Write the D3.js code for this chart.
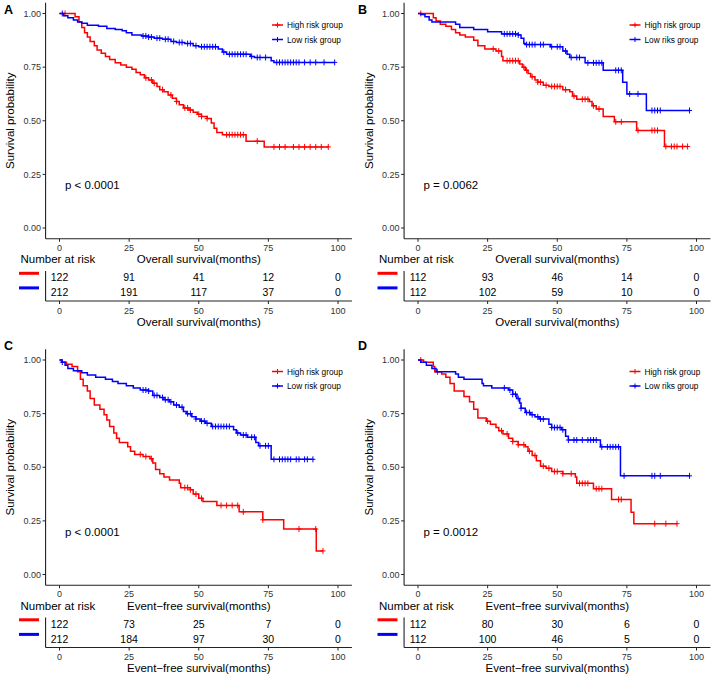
<!DOCTYPE html>
<html><head><meta charset="utf-8">
<script src="https://cdn.jsdelivr.net/npm/d3@7"></script>
<style>body{margin:0;background:#fff}svg{display:block}</style>
</head><body>
<svg id="chart" width="713" height="679"></svg>
<script>
// ---------- data ----------
const timeTicks = [0, 25, 50, 75, 100];
const survTicks = [0, 0.25, 0.5, 0.75, 1];
const survTickLabels = ["0.00", "0.25", "0.50", "0.75", "1.00"];
const groupNames = ["High risk group", "Low risk group"];
const groupNamesTypo = ["High risk group", "Low riks group"];
const panelLetters = ["A", "B", "C", "D"];
const xTitles = ["Overall survival(months)", "Overall survival(months)", "Event\u2212free survival(months)", "Event\u2212free survival(months)"];
const pValues = ["p < 0.0001", "p = 0.0062", "p < 0.0001", "p = 0.0012"];

// Panel A
const A_highT = [5.6,7,8,9,10,11,12.5,13.5,15,16.5,18,20,22,24,26,27.5,29,30.5,32,33.5,35,36,37.5,39,40.5,42,43,44.5,46.5,48,49.5,51,53,54.5,55.5,56.5,58.5,67,73.5];
const A_highS = [0.985,0.96,0.935,0.91,0.89,0.87,0.85,0.83,0.815,0.8,0.785,0.77,0.76,0.75,0.74,0.725,0.715,0.7,0.69,0.675,0.66,0.645,0.635,0.62,0.605,0.59,0.575,0.56,0.55,0.54,0.53,0.52,0.51,0.49,0.465,0.445,0.435,0.405,0.378];
const A_highC = [2,31,33,34,37,40,42,45,46,47,50,51,53,60,61,62,63,64,65,66,71,77,79,81,84,86,88,90,92,94,96.5];
const A_lowT = [1.5,3,5,6.5,8,10,14,17,20,22.5,24,26,29.5,32,34,37,40,42,45,48,50,57,58.5,60,68.5,70,76,77];
const A_lowS = [0.99,0.98,0.97,0.96,0.955,0.945,0.94,0.93,0.925,0.92,0.91,0.9,0.895,0.89,0.885,0.88,0.87,0.865,0.86,0.85,0.845,0.835,0.82,0.81,0.8,0.795,0.78,0.772];
const A_lowC = [1,30,31,32,33,35,36,38,39,41,43,44,46,47,49,51,52,53,54,55,56,59,61,62,63,64,65,66,67,69,71,72,74,78,79,80,81,82,83,84,85,86,88,90,92,95,98.8];
const A_highRisk = [122, 91, 41, 12, 0];
const A_lowRisk = [212, 191, 117, 37, 0];

// Panel B
const B_highT = [5.5,6.5,8,10,12,13.5,15,17,20,21.5,24,28,30,30.5,36.5,37.5,38.5,39.5,40.5,42,43,45,47,52,54.5,55.5,57,61.5,62.5,64,66.5,70.5,78.5,88.5];
const B_highS = [0.98,0.965,0.95,0.94,0.925,0.91,0.9,0.89,0.875,0.85,0.835,0.825,0.8,0.78,0.765,0.75,0.735,0.72,0.705,0.69,0.68,0.665,0.66,0.645,0.635,0.615,0.6,0.59,0.57,0.555,0.52,0.495,0.455,0.38];
const B_highC = [1,27,29,32,33,34,35,36,38,39,41,43,44,46,48,49,50,51,53,56,59,60,61,63,65,71,73,79,84,85,86,89,91,92,93,95,96.8];
const B_lowT = [1,2.5,4,5,13.5,15,20,25,30,36,37,38,38.5,47.5,52,53.5,54.5,60,66.5,73.5,75,82];
const B_lowS = [0.995,0.985,0.97,0.96,0.95,0.935,0.925,0.915,0.905,0.9,0.885,0.86,0.855,0.845,0.825,0.81,0.795,0.77,0.735,0.68,0.625,0.548];
const B_lowC = [31,32,33,34,35,36,39,40,41,42,44,45,48,50,51,53,55,57,58,61,63,64,65,66,71,72,73,76,79,84,85,86,87,97.5];
const B_highRisk = [112, 93, 46, 14, 0];
const B_lowRisk = [112, 102, 59, 10, 0];

// Panel C
const C_highT = [0.8,2.5,4.5,6.5,7.5,8.5,10,11,12.5,14.5,16,17,18,19.5,20.5,21.5,24.5,25.5,27,30,32.5,33.5,34.5,36,37.5,39.5,43,43.5,47,48,50,51.5,56.5,64.5,73,80.5,92.2];
const C_highS = [0.99,0.98,0.97,0.945,0.91,0.88,0.855,0.82,0.79,0.77,0.745,0.72,0.69,0.66,0.635,0.615,0.595,0.575,0.56,0.55,0.54,0.52,0.49,0.47,0.455,0.44,0.425,0.405,0.395,0.375,0.355,0.34,0.322,0.292,0.255,0.212,0.11];
const C_highC = [29,31,33,45,46,47,49,51,58,60,62,64,66,73,86,92,94.6];
const C_lowT = [0.8,2,3,5,8,10,13,16.5,19,21,24,26.5,29,32,33.5,36,37.5,39.5,41,43,44.5,45.5,47.5,49,50.5,52.5,54.5,62.5,63.5,65,67.5,70.5,71.5,76];
const C_lowS = [0.99,0.975,0.96,0.95,0.94,0.93,0.92,0.91,0.9,0.89,0.88,0.87,0.86,0.855,0.835,0.825,0.815,0.805,0.79,0.78,0.76,0.75,0.735,0.725,0.715,0.705,0.69,0.675,0.66,0.65,0.64,0.615,0.6,0.537];
const C_lowC = [1,30,31,32,34,35,37,38,39,40,42,44,46,47,49,51,52,53,55,56,57,58,59,60,61,64,66,67,69,70,72,74,75,77,79,80,81,82,83,85,86,88,89,91];
const C_highRisk = [122, 73, 25, 7, 0];
const C_lowRisk = [212, 184, 97, 30, 0];

// Panel D
const D_highT = [2,5.5,6,8.5,10,11.5,13,16.5,18.5,20,21.5,24.5,26,28,29,30.5,32.5,34,36,38.5,39.5,41,42.5,44,46,48,52,56.5,57,63,69.5,76.5,77.5];
const D_highS = [0.99,0.97,0.945,0.935,0.92,0.89,0.855,0.83,0.805,0.77,0.73,0.715,0.7,0.685,0.67,0.655,0.635,0.62,0.605,0.595,0.575,0.555,0.53,0.505,0.495,0.48,0.47,0.455,0.425,0.4,0.35,0.29,0.237];
const D_highC = [1,7,25,30,32,34,36,38,40,42,45,47,49,50,52,55,58,59,60,61,64,65,66,72,73,85,89,93];
const D_lowT = [1,3,5,6.5,13.5,14.5,16.5,23,23.5,26.5,32.5,34,35.5,36.5,37,38.5,40.5,42,43.5,47,48,51.5,53,54,65.5,72.7];
const D_lowS = [0.99,0.975,0.96,0.945,0.935,0.92,0.91,0.89,0.88,0.87,0.86,0.84,0.82,0.8,0.775,0.755,0.745,0.735,0.725,0.7,0.685,0.675,0.645,0.627,0.595,0.46];
const D_lowC = [31,33,34,35,36,37,39,40,41,43,44,45,48,49,50,51,52,54,56,57,59,61,62,63,64,66,68,69,70,71,72,74,84,85,87,97.5];
const D_highRisk = [112, 80, 30, 6, 0];
const D_lowRisk = [112, 100, 46, 5, 0];

// ---------- drawing ----------
const RED = "#FF0000", BLUE = "#0000FF";
const FONT = "'Liberation Sans', Arial, Helvetica, sans-serif";
const AX = "#222";

const panels = [
  {ox: 0, oy: 0, curves: [[A_highT, A_highS, A_highC], [A_lowT, A_lowS, A_lowC]], risk: [A_highRisk, A_lowRisk], names: groupNames, letterPos: [4, 13.5]},
  {ox: 358.5, oy: 0, curves: [[B_highT, B_highS, B_highC], [B_lowT, B_lowS, B_lowC]], risk: [B_highRisk, B_lowRisk], names: groupNamesTypo, letterPos: [358, 13.5]},
  {ox: 0, oy: 346.5, curves: [[C_highT, C_highS, C_highC], [C_lowT, C_lowS, C_lowC]], risk: [C_highRisk, C_lowRisk], names: groupNames, letterPos: [4, 350]},
  {ox: 358.5, oy: 346.5, curves: [[D_highT, D_highS, D_highC], [D_lowT, D_lowS, D_lowC]], risk: [D_highRisk, D_lowRisk], names: groupNamesTypo, letterPos: [358, 350]}
];
const colors = [RED, BLUE];

const svg = d3.select("#chart");
svg.append("rect").attr("width", 713).attr("height", 679).attr("fill", "#fff");

const x = d3.scaleLinear().domain([0, 100]).range([59.5, 338]);
const y = d3.scaleLinear().domain([0, 1]).range([228, 13.5]);
const xLeft = x(-5), xRight = x(105), yTop = y(1.05), yBot = y(-0.05);

function survAt(T, S, t) {
  let s = 1;
  for (let i = 0; i < T.length; i++) { if (T[i] <= t) s = S[i]; else break; }
  return s;
}

panels.forEach((p, pi) => {
  // panel letter
  svg.append("text").attr("x", p.letterPos[0]).attr("y", p.letterPos[1])
    .attr("font-family", FONT).attr("font-weight", "bold").attr("font-size", 12.5)
    .attr("fill", "#000").text(panelLetters[pi]);

  const g = svg.append("g").attr("transform", `translate(${p.ox},${p.oy})`);

  // axes
  g.append("line").attr("x1", xLeft).attr("x2", xLeft).attr("y1", yTop).attr("y2", yBot)
    .attr("stroke", AX).attr("stroke-width", 1.1);
  g.append("line").attr("x1", xLeft).attr("x2", xRight).attr("y1", yBot).attr("y2", yBot)
    .attr("stroke", AX).attr("stroke-width", 1.1);
  survTicks.forEach((v, i) => {
    g.append("line").attr("x1", xLeft - 3).attr("x2", xLeft).attr("y1", y(v)).attr("y2", y(v))
      .attr("stroke", AX).attr("stroke-width", 1);
    g.append("text").attr("x", xLeft - 4.5).attr("y", y(v) + 3.2).attr("text-anchor", "end")
      .attr("font-family", FONT).attr("font-size", 9).attr("fill", "#333").text(survTickLabels[i]);
  });
  timeTicks.forEach(v => {
    g.append("line").attr("x1", x(v)).attr("x2", x(v)).attr("y1", yBot).attr("y2", yBot + 3)
      .attr("stroke", AX).attr("stroke-width", 1);
    g.append("text").attr("x", x(v)).attr("y", yBot + 12).attr("text-anchor", "middle")
      .attr("font-family", FONT).attr("font-size", 9).attr("fill", "#333").text(v);
  });
  // y title
  g.append("text").attr("transform", `translate(14,${(y(0) + y(1)) / 2}) rotate(-90)`)
    .attr("text-anchor", "middle").attr("font-family", FONT).attr("font-size", 11.5)
    .attr("fill", "#000").text("Survival probability");
  // x title
  g.append("text").attr("x", x(50)).attr("y", yBot + 24.5).attr("text-anchor", "middle")
    .attr("font-family", FONT).attr("font-size", 11.5).attr("fill", "#000").text(xTitles[pi]);

  // curves
  p.curves.forEach((c, ci) => {
    const [T, S, C] = c;
    const end = d3.max(C.concat(T));
    const pts = [[0, 1]].concat(T.map((t, i) => [t, S[i]]));
    pts.push([end, S[S.length - 1]]);
    const line = d3.line().x(d => x(d[0])).y(d => y(d[1])).curve(d3.curveStepAfter);
    g.append("path").attr("d", line(pts)).attr("fill", "none")
      .attr("stroke", colors[ci]).attr("stroke-width", 1.5);
    C.forEach(t => {
      const cx = x(t), cy = y(survAt(T, S, t));
      g.append("path").attr("d", `M${cx - 2.5},${cy}H${cx + 2.5}M${cx},${cy - 3}V${cy + 3}`)
        .attr("stroke", colors[ci]).attr("stroke-width", 1);
    });
  });

  // legend
  const legX = pi % 2 === 0 ? 272 : 271;
  p.names.forEach((nm, ci) => {
    const ly = 25 + ci * 14.5;
    g.append("line").attr("x1", legX).attr("x2", legX + 11).attr("y1", ly).attr("y2", ly)
      .attr("stroke", colors[ci]).attr("stroke-width", 1.5);
    g.append("path").attr("d", `M${legX + 3},${ly}H${legX + 8}M${legX + 5.5},${ly - 2.5}V${ly + 2.5}`)
      .attr("stroke", colors[ci]).attr("stroke-width", 1);
    g.append("text").attr("x", legX + 15).attr("y", ly + 3).attr("font-family", FONT)
      .attr("font-size", 8.3).attr("fill", "#000").text(nm);
  });

  // p value
  g.append("text").attr("x", 65).attr("y", 189).attr("font-family", FONT)
    .attr("font-size", 11.5).attr("fill", "#000").text(pValues[pi]);

  // risk table
  g.append("text").attr("x", 20.5).attr("y", yBot + 24.5).attr("font-family", FONT)
    .attr("font-size", 11.5).attr("fill", "#000").text("Number at risk");
  const rowY = [277.7, 292.3];
  const tBot = 301;
  g.append("line").attr("x1", xLeft).attr("x2", xLeft).attr("y1", 271).attr("y2", tBot)
    .attr("stroke", AX).attr("stroke-width", 1.1);
  g.append("line").attr("x1", xLeft).attr("x2", xRight).attr("y1", tBot).attr("y2", tBot)
    .attr("stroke", AX).attr("stroke-width", 1.1);
  p.risk.forEach((arr, ci) => {
    g.append("line").attr("x1", 19).attr("x2", 39).attr("y1", rowY[ci] - 4.4).attr("y2", rowY[ci] - 4.4)
      .attr("stroke", colors[ci]).attr("stroke-width", 3);
    arr.forEach((n, k) => {
      g.append("text").attr("x", x(timeTicks[k])).attr("y", rowY[ci] + 3.7).attr("text-anchor", "middle")
        .attr("font-family", FONT).attr("font-size", 10.5).attr("fill", "#000").text(n);
    });
  });
  timeTicks.forEach(v => {
    g.append("line").attr("x1", x(v)).attr("x2", x(v)).attr("y1", tBot).attr("y2", tBot + 3)
      .attr("stroke", AX).attr("stroke-width", 1);
    g.append("text").attr("x", x(v)).attr("y", tBot + 12.5).attr("text-anchor", "middle")
      .attr("font-family", FONT).attr("font-size", 9).attr("fill", "#333").text(v);
  });
  g.append("text").attr("x", x(50)).attr("y", tBot + 24.7).attr("text-anchor", "middle")
    .attr("font-family", FONT).attr("font-size", 11.5).attr("fill", "#000").text(xTitles[pi]);
});
</script></body></html>
